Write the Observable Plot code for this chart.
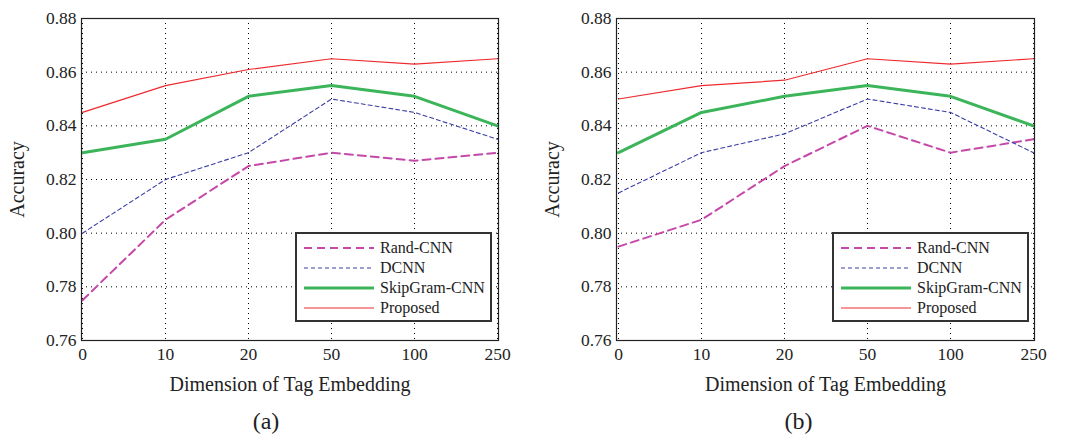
<!DOCTYPE html>
<html>
<head>
<meta charset="utf-8">
<script src="https://cdn.jsdelivr.net/npm/d3@7"></script>
<script src="https://cdn.jsdelivr.net/npm/@observablehq/plot@0.6"></script>
<style>
  html, body { margin: 0; padding: 0; background: #fff; }
  body { font-family: "Liberation Serif", "Times New Roman", serif; color: #222; }
  #wrap { display: flex; width: 1065px; height: 434px; }
  .panel { position: relative; }
  .cap { position: absolute; left: 0; right: 0; top: 405px; text-align: center; font-size: 24px; line-height: 32px; }
  .legend { position: absolute; border: 2px solid #333; background: #fff; box-sizing: border-box; padding: 4px 0 0 6px; }
  .legend .row { display: flex; align-items: center; height: 20px; font-size: 16px; line-height: 20px; white-space: nowrap; }
  .legend svg { display: block; margin-right: 5px; }
</style>
</head>
<body>
<div id="wrap"></div>
<script>
const dims = ["0", "10", "20", "50", "100", "250"];
const seriesNames = ["Rand-CNN", "DCNN", "SkipGram-CNN", "Proposed"];
const yTicks = [0.76, 0.78, 0.80, 0.82, 0.84, 0.86, 0.88];
const panelLabels = ["(a)", "(b)"];

// Panel (a)
const randA = [0.775, 0.805, 0.825, 0.830, 0.827, 0.830];
const dcnnA = [0.800, 0.820, 0.830, 0.850, 0.845, 0.835];
const skipA = [0.830, 0.835, 0.851, 0.855, 0.851, 0.840];
const propA = [0.845, 0.855, 0.861, 0.865, 0.863, 0.865];

// Panel (b)
const randB = [0.795, 0.805, 0.825, 0.840, 0.830, 0.835];
const dcnnB = [0.815, 0.830, 0.837, 0.850, 0.845, 0.830];
const skipB = [0.830, 0.845, 0.851, 0.855, 0.851, 0.840];
const propB = [0.850, 0.855, 0.857, 0.865, 0.863, 0.865];

const colors = ["#c548a8", "#3a3ea6", "#3cb55a", "#ee2a2e"];
const dashes = ["8,5", "4,3", null, null];
const widths = [2, 1.1, 3, 1.2];

const panels = [
  { vals: [randA, dcnnA, skipA, propA], width: 532, ml: 81, mr: 34, legend: { left: 295, top: 232, width: 197, height: 90 } },
  { vals: [randB, dcnnB, skipB, propB], width: 533, ml: 84, mr: 31, legend: { left: 300, top: 232, width: 197, height: 90 } }
];

const SERIF = "'Liberation Serif', 'Times New Roman', serif";
const wrap = document.getElementById("wrap");

panels.forEach((p, pi) => {
  const lineMarks = p.vals.map((vals, si) => {
    const rows = dims.map((d, i) => ({ dim: d, acc: vals[i] }));
    return Plot.line(rows, {
      x: "dim", y: "acc",
      stroke: colors[si], strokeWidth: widths[si],
      strokeDasharray: dashes[si] || undefined,
      strokeLinejoin: "round"
    });
  });

  const chart = Plot.plot({
    width: p.width,
    height: 400,
    marginLeft: p.ml,
    marginRight: p.mr,
    marginTop: 18,
    marginBottom: 60,
    style: { fontFamily: SERIF, fontSize: "17px", color: "#222", background: "#fff" },
    x: { type: "point", domain: dims, padding: 0 },
    y: { domain: [0.76, 0.88] },
    marks: [
      Plot.gridX(dims, { stroke: "#000", strokeOpacity: 1, strokeDasharray: "1,4", strokeWidth: 1 }),
      Plot.gridY(yTicks, { stroke: "#000", strokeOpacity: 1, strokeDasharray: "1,4", strokeWidth: 1 }),
      ...lineMarks,
      Plot.frame({ stroke: "#222", strokeWidth: 1.2 }),
      Plot.axisX(dims, { tickSize: 0, tickPadding: 7, label: null }),
      Plot.axisX({ ticks: [], tickSize: 0, label: "Dimension of Tag Embedding", labelAnchor: "center", labelOffset: 50, labelArrow: "none" }),
      Plot.axisY(yTicks, { tickSize: 0, tickPadding: 5, tickFormat: d3.format(".2f"), label: null }),
      Plot.axisY({ ticks: [], tickSize: 0, label: "Accuracy", labelAnchor: "center", labelOffset: 72, labelArrow: "none" })
    ]
  });

  // enforce serif fonts and sizes inline
  chart.querySelectorAll("g").forEach(g => {
    g.removeAttribute("font-family");
    g.removeAttribute("font-size");
    g.removeAttribute("font-variant");
  });
  chart.querySelectorAll("text").forEach(t => {
    const g = t.closest("g[aria-label]");
    const isLabel = g && /axis label$/.test(g.getAttribute("aria-label"));
    t.style.fontFamily = SERIF;
    t.style.fontSize = isLabel ? "20px" : "17.5px";
    t.style.fontVariant = "normal";
    t.style.fill = "#222";
  });

  const panel = document.createElement("div");
  panel.className = "panel";
  panel.style.width = p.width + "px";
  panel.style.height = "434px";
  panel.appendChild(chart);

  // legend
  const lg = document.createElement("div");
  lg.className = "legend";
  Object.assign(lg.style, { left: p.legend.left + "px", top: p.legend.top + "px", width: p.legend.width + "px", height: p.legend.height + "px" });
  seriesNames.forEach((name, si) => {
    const row = document.createElement("div");
    row.className = "row";
    const ns = "http://www.w3.org/2000/svg";
    const s = document.createElementNS(ns, "svg");
    s.setAttribute("width", 72); s.setAttribute("height", 20);
    const l = document.createElementNS(ns, "line");
    l.setAttribute("x1", 1); l.setAttribute("x2", 71); l.setAttribute("y1", 10); l.setAttribute("y2", 10);
    l.setAttribute("stroke", colors[si]); l.setAttribute("stroke-width", widths[si]);
    if (dashes[si]) l.setAttribute("stroke-dasharray", dashes[si]);
    s.appendChild(l);
    row.appendChild(s);
    const t = document.createElement("span");
    t.textContent = name;
    row.appendChild(t);
    lg.appendChild(row);
  });
  panel.appendChild(lg);

  const cap = document.createElement("div");
  cap.className = "cap";
  cap.textContent = panelLabels[pi];
  panel.appendChild(cap);

  wrap.appendChild(panel);
});
</script>
</body>
</html>
